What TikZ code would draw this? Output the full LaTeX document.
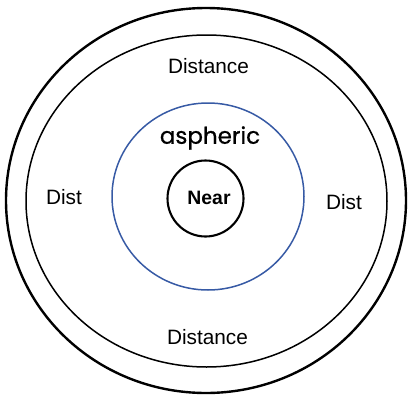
\documentclass[tikz,border=0pt]{standalone}
\usepackage{fontspec}
\setmainfont{Liberation Sans}
\newfontfamily\geofont[FakeBold=0.6]{Poppins}

\begin{document}
\begin{tikzpicture}[x=1pt,y=-1pt,
    zone/.style={font=\fontsize{20.8}{24}\selectfont,inner sep=0pt},
    ring/.style={draw=black,line width=1.5pt}]
  \useasboundingbox (0,0) rectangle (410,394);
  \draw[ring,line width=2.4pt] (206,200.5) ellipse [x radius=200,y radius=192.5];
  \draw[ring] (206.5,201) ellipse [x radius=180.5,y radius=166];
  \draw[ring,draw={rgb,255:red,55;green,90;blue,165}] (208,196.5) ellipse [x radius=96,y radius=93.5];
  \draw[ring,line width=2.1pt] (205.5,198.5) circle [radius=38];

  \node[zone] (top) at (208.5,66) {Distance};
  \node[zone] (bottom) at (207.5,337.5) {Distance};
  \node[zone] (left) at (64,197) {Dist};
  \node[zone] (right) at (344,202) {Dist};
  \node[inner sep=0pt,font=\geofont\fontsize{23}{27}\selectfont] (asph) at (210,138) {aspheric};
  \node[inner sep=0pt,font=\bfseries\fontsize{19.4}{23}\selectfont] (near) at (209,197.5) {Near};
\end{tikzpicture}
\end{document}
